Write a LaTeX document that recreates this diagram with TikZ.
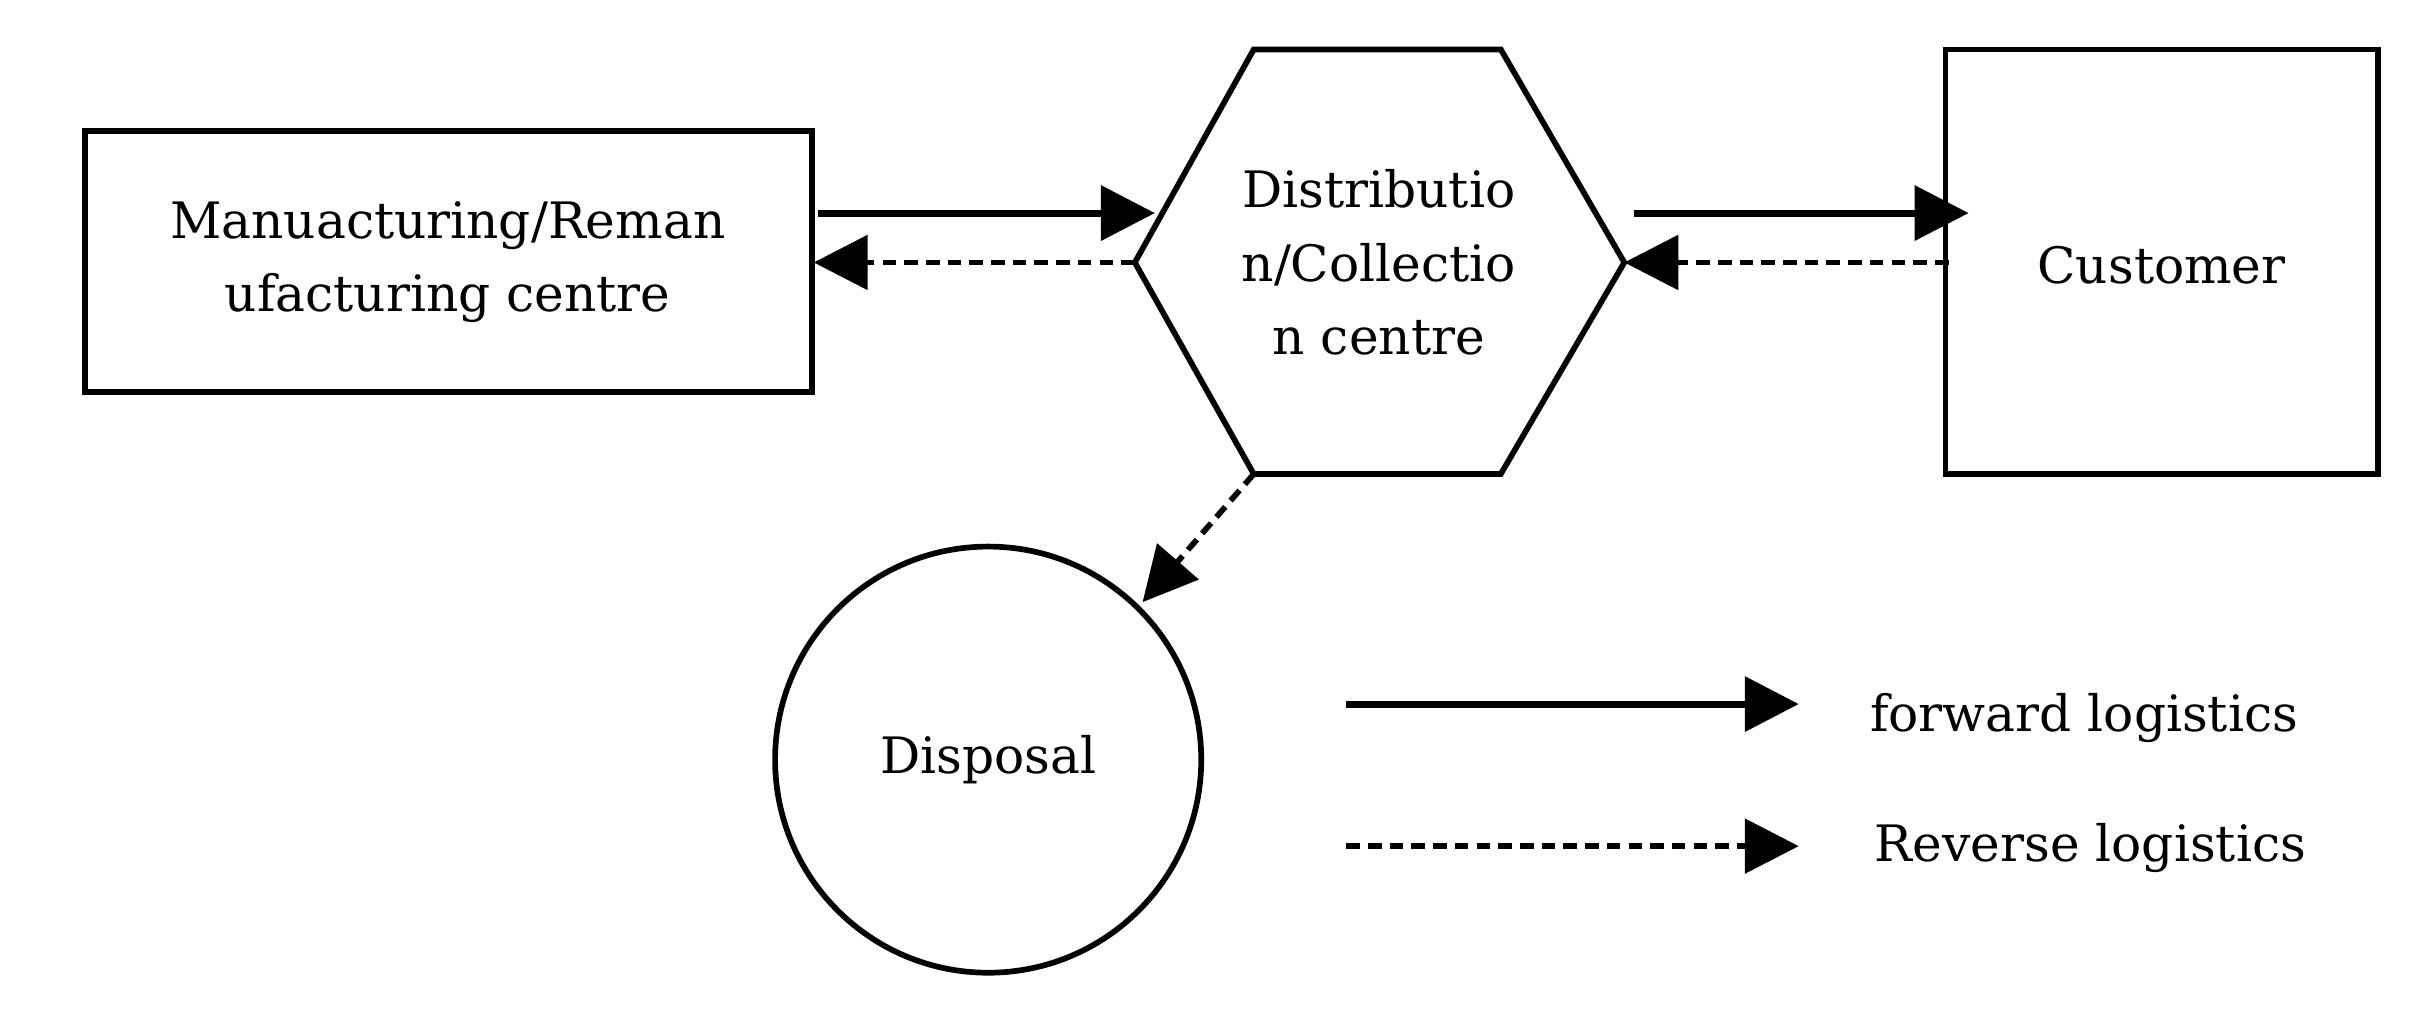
\documentclass[tikz,border=0pt]{standalone}
\usepackage{fontspec}
\setmainfont{DejaVu Serif}
\usetikzlibrary{arrows.meta}
\begin{document}
\begin{tikzpicture}[x=0.02cm,y=-0.02cm,
  box/.style={draw,line width=2.1pt},
  fw/.style={line width=2.6pt,-{Triangle[length=0.7cm,width=0.7cm]}},
  rv/.style={line width=2.1pt,dash pattern=on 5pt off 3pt,-{Triangle[length=0.7cm,width=0.7cm]}},
  lbl/.style={font=\fontsize{18.5}{27}\selectfont,align=center}]
\useasboundingbox (0,0) rectangle (1568,655);
\draw[box] (55,85) rectangle (526,254);
\node[lbl] (m) at (290,170) {Manuacturing/Reman\\ufacturing centre};
\coordinate (mR1) at (530,138); \coordinate (mR2) at (527,170);
\draw[box] (735,170) -- (812,32) -- (972,32) -- (1052,170) -- (972,307) -- (812,307) -- cycle;
\node[lbl] (d) at (893,170) {Distributio\\n/Collectio\\n centre};
\coordinate (dL) at (735,170); \coordinate (dLa) at (748,138);
\coordinate (dR) at (1052,170); \coordinate (dRa) at (1058,138);
\coordinate (dB) at (812,307);
\draw[box] (1260,32) rectangle (1540,307);
\node[lbl] (c) at (1400,172) {Customer};
\coordinate (cL) at (1275,138); \coordinate (cL2) at (1262,170);
\draw[box] (640,492) circle (138);
\node[lbl] (p) at (640,492) {Disposal};
\coordinate (pT) at (740,390);
\draw[fw] (mR1) -- (dLa);
\draw[rv] (dL) -- (mR2);
\draw[fw] (dRa) -- (cL);
\draw[rv] (cL2) -- (dR);
\draw[rv] (dB) -- (pT);
\coordinate (l1a) at (872,456); \coordinate (l1b) at (1165,456);
\coordinate (l2a) at (872,548); \coordinate (l2b) at (1165,548);
\draw[fw] (l1a) -- (l1b);
\draw[rv] (l2a) -- (l2b);
\node[lbl,anchor=west] (t1) at (1205,465) {forward logistics};
\node[lbl,anchor=west] (t2) at (1208,549) {Reverse logistics};
\end{tikzpicture}
\end{document}
